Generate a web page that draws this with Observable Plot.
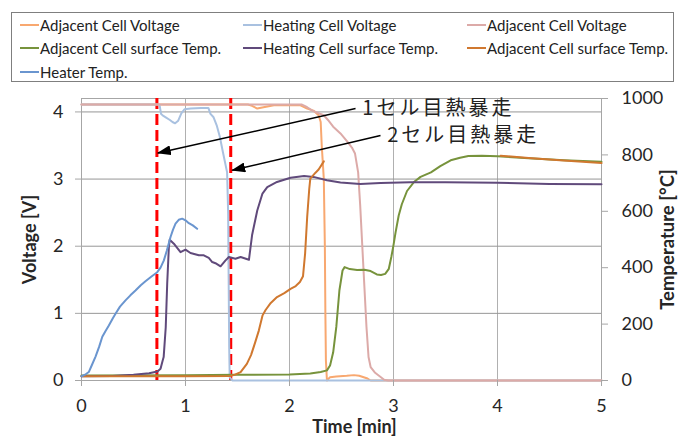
<!DOCTYPE html>
<html>
<head>
<meta charset="utf-8">
<script src="https://cdn.jsdelivr.net/npm/d3@7"></script>
<script src="https://cdn.jsdelivr.net/npm/@observablehq/plot@0.6"></script>
<style>
  html, body { margin: 0; padding: 0; background: #fff; }
  #wrap { position: relative; width: 679px; height: 439px; overflow: hidden; font-family: Lato, "Open Sans", sans-serif; }
  #legend { position: relative; width: 679px; height: 88px; }
  #legend .box { position: absolute; left: 11px; top: 12px; width: 663px; height: 70px; border: 1px solid #7f7f7f; box-sizing: border-box; }
  #legend .item { position: absolute; height: 20px; display: flex; align-items: center; font-size: 15px; color: #222; white-space: nowrap; }
  #legend .sw { width: 19px; height: 2px; margin-right: 1px; }
</style>
</head>
<body>
<div id="wrap">
  <div id="legend"><div class="box"></div></div>
  <div id="chart"></div>
</div>
<script>
// ---- data (time in min; voltage in V; temperature in °C) ----
const adjVoltageA = [[0,4.11],[1.6,4.11],[1.64,4.09],[1.69,4.05],[1.75,4.07],[1.85,4.10],[2.1,4.10],[2.17,4.05],[2.23,4.02],[2.28,3.95],[2.30,3.85],[2.31,3.5],[2.33,3.0],[2.34,2.0],[2.345,1.0],[2.35,0.3],[2.36,0],[2.39,0.05],[2.45,0.06],[2.55,0.07],[2.62,0.08],[2.67,0.07],[2.75,0.03],[2.78,0],[5,0]];
const heatVoltage = [[0,4.11],[0.75,4.11],[0.765,3.97],[0.78,3.95],[0.81,3.92],[0.85,3.88],[0.875,3.85],[0.9,3.83],[0.93,3.87],[0.96,3.98],[0.99,4.04],[1.05,4.05],[1.15,4.06],[1.22,4.06],[1.24,3.97],[1.27,3.92],[1.30,3.80],[1.33,3.63],[1.36,3.40],[1.38,3.25],[1.40,3.1],[1.41,2.5],[1.415,1.5],[1.42,0.5],[1.425,0.05],[1.45,0],[5,0]];
const adjVoltageB = [[0,4.11],[2.12,4.11],[2.17,4.07],[2.22,4.02],[2.28,3.98],[2.33,3.95],[2.37,3.88],[2.42,3.78],[2.49,3.68],[2.56,3.55],[2.60,3.47],[2.63,3.38],[2.66,3.1],[2.68,2.6],[2.70,2.0],[2.72,1.4],[2.74,0.8],[2.76,0.35],[2.78,0.2],[2.82,0.12],[2.87,0.06],[2.91,0.01],[2.95,0],[5,0]];
const adjSurfaceA = [[0,18],[1.0,19],[1.5,20],[2.0,21],[2.2,25],[2.3,30],[2.36,36],[2.39,53],[2.42,100],[2.45,190],[2.48,320],[2.51,390],[2.53,402],[2.58,395],[2.65,392],[2.72,393],[2.78,388],[2.84,376],[2.88,374],[2.92,378],[2.955,396],[2.98,440],[3.0,480],[3.02,525],[3.05,585],[3.08,625],[3.13,672],[3.2,705],[3.26,722],[3.36,738],[3.45,760],[3.55,781],[3.64,790],[3.72,796],[3.85,797],[4.0,795],[4.3,788],[4.64,781],[5,776]];
const heatSurface = [[0,15],[0.3,16],[0.5,20],[0.65,26],[0.73,32],[0.76,42],[0.78,70],[0.79,83],[0.81,189],[0.824,343],[0.84,473],[0.848,499],[0.888,485],[0.952,455],[1.0,464],[1.048,452],[1.128,444],[1.176,444],[1.224,435],[1.257,420],[1.288,416],[1.337,405],[1.385,426],[1.417,438],[1.48,432],[1.53,438],[1.61,428],[1.64,515],[1.657,545],[1.69,603],[1.74,663],[1.786,686],[1.88,704],[2.01,719],[2.14,725],[2.23,722],[2.36,710],[2.49,702],[2.68,697],[2.875,700],[3.16,703],[3.5,703],[4.0,701],[4.5,697],[5,696]];
const adjSurfaceB = [[0,15],[1.0,15],[1.43,16],[1.47,20],[1.53,30],[1.59,59],[1.63,90],[1.67,135],[1.705,177],[1.74,230],[1.77,250],[1.82,275],[1.88,296],[1.95,310],[2.01,325],[2.06,335],[2.1,349],[2.13,370],[2.15,450],[2.17,580],[2.19,680],[2.2,716],[2.25,737],[2.28,748],[2.33,777],[3.5,null],[4.03,797],[4.3,789],[4.6,781],[5,771]];
const heaterTemp = [[0,15],[0.04,22],[0.07,30],[0.1,55],[0.135,85],[0.17,120],[0.2,155],[0.23,175],[0.263,195],[0.3,220],[0.327,237],[0.37,262],[0.423,284],[0.47,302],[0.519,319],[0.57,338],[0.615,352],[0.67,368],[0.728,384],[0.76,400],[0.792,426],[0.82,460],[0.856,509],[0.88,535],[0.904,556],[0.935,570],[0.968,574],[1.0,568],[1.032,558],[1.07,550],[1.112,538]];

const legendNames = ["Adjacent Cell Voltage","Heating Cell Voltage","Adjacent Cell Voltage","Adjacent Cell surface Temp.","Heating Cell surface Temp.","Adjacent Cell surface Temp.","Heater Temp."];
const legendColors = ["#f8a870","#a9c1e0","#dcaaa8","#77933c","#604a7b","#d0782f","#6a95cf"];

const xTicks = [0,1,2,3,4,5];
const vTicks = [0,1,2,3,4];
const tempTicks = [0,200,400,600,800,1000];
const vMax = 4.2, tMax = 1000;
const runawayTimes = [0.725, 1.435];
const annText = ["1セル目熱暴走","2セル目熱暴走"];
const annTextX = [2.70, 2.94];
const annTextY = [4.05, 3.65];
const arrowX1 = [2.635, 2.875];
const arrowY1 = [4.05, 3.65];
const arrowX2 = [0.734, 1.449];
const arrowY2 = [3.387, 3.13];

// ---- legend ----
const legend = document.getElementById("legend");
const colX = [20, 243, 467], rowY = [15, 38, 62];
legendNames.forEach((n, i) => {
  const it = document.createElement("div");
  it.className = "item";
  it.style.left = colX[i % 3] + "px";
  it.style.top = rowY[Math.floor(i / 3)] + "px";
  it.innerHTML = `<span class="sw" style="background:${legendColors[i]}"></span><span>${n}</span>`;
  legend.appendChild(it);
});

// ---- chart ----
const k = vMax / tMax;
const tv = d => d[1] == null ? NaN : d[1] * k;
const ann = annText.map((t, i) => ({t, x: annTextX[i], y: annTextY[i], x1: arrowX1[i], y1: arrowY1[i], x2: arrowX2[i], y2: arrowY2[i]}));

const chart = Plot.plot({
  width: 679, height: 351,
  marginTop: 10, marginBottom: 59, marginLeft: 81, marginRight: 78,
  style: {fontFamily: "Lato, 'Open Sans', sans-serif", fontSize: "18px", color: "#262626", background: "white", overflow: "visible"},
  x: {domain: [0, 5]},
  y: {domain: [0, vMax]},
  marks: [
    Plot.ruleX(xTicks.slice(1, -1), {stroke: "#b0b0b0", strokeWidth: 1}),
    Plot.ruleY(vTicks.slice(1), {stroke: "#969696", strokeWidth: 1}),
    Plot.frame({stroke: "#a6a6a6"}),
    Plot.ruleX(runawayTimes, {stroke: "#ff0000", strokeWidth: 3, strokeDasharray: "11,5"}),
    Plot.line(adjVoltageA, {x: d => d[0], y: d => d[1], stroke: legendColors[0], strokeWidth: 2}),
    Plot.line(heatVoltage, {x: d => d[0], y: d => d[1], stroke: legendColors[1], strokeWidth: 2}),
    Plot.line(adjVoltageB, {x: d => d[0], y: d => d[1], stroke: legendColors[2], strokeWidth: 2}),
    Plot.line(adjSurfaceA, {x: d => d[0], y: tv, stroke: legendColors[3], strokeWidth: 2}),
    Plot.line(heatSurface, {x: d => d[0], y: tv, stroke: legendColors[4], strokeWidth: 2}),
    Plot.line(adjSurfaceB, {x: d => d[0], y: tv, stroke: legendColors[5], strokeWidth: 2}),
    Plot.line(heaterTemp, {x: d => d[0], y: tv, stroke: legendColors[6], strokeWidth: 2}),
    Plot.link(ann, {x1: "x1", y1: "y1", x2: "x2", y2: "y2", stroke: "#000", strokeWidth: 1.5}),
    Plot.text(ann, {x: "x", y: "y", text: "t", textAnchor: "start", lineAnchor: "middle", fontSize: 20, fill: "#222", fontFamily: "'Noto Sans CJK JP', sans-serif"}),
    Plot.axisX(xTicks, {anchor: "bottom", tickSize: 6, tickPadding: 13, stroke: "#a6a6a6", label: null, tickFormat: d => String(d)}),
    Plot.axisY(vTicks, {anchor: "left", tickSize: 6, tickPadding: 12, stroke: "#a6a6a6", label: null, tickFormat: d => String(d)}),
    Plot.axisY(tempTicks.map(t => t * k), {anchor: "right", tickSize: 6, tickPadding: 14, stroke: "#a6a6a6", label: null, tickFormat: d => String(Math.round(d / k))}),
    Plot.text(["Voltage [V]"], {frameAnchor: "left", textAnchor: "middle", lineAnchor: "middle", dx: -51, rotate: -90, fontWeight: "bold", fontSize: 18, fill: "#262626"}),
    Plot.text(["Temperature [°C]"], {frameAnchor: "right", textAnchor: "middle", lineAnchor: "middle", dx: 67, rotate: -90, fontWeight: "bold", fontSize: 18.5, fill: "#262626"}),
    Plot.text(["Time [min]"], {frameAnchor: "bottom", textAnchor: "middle", lineAnchor: "middle", dx: 13, dy: 47, fontWeight: "bold", fontSize: 18, fill: "#262626"})
  ]
});

// letter spacing for annotation texts
chart.querySelectorAll("text").forEach(t => { if (/セル/.test(t.textContent)) t.style.letterSpacing = "3px"; });

// filled arrowheads for the annotation links
const ns = "http://www.w3.org/2000/svg";
const defs = document.createElementNS(ns, "defs");
const marker = document.createElementNS(ns, "marker");
marker.setAttribute("id", "ahead");
marker.setAttribute("viewBox", "0 0 14 10");
marker.setAttribute("refX", "13"); marker.setAttribute("refY", "5");
marker.setAttribute("markerWidth", "14"); marker.setAttribute("markerHeight", "10");
marker.setAttribute("markerUnits", "userSpaceOnUse");
marker.setAttribute("orient", "auto");
const mp = document.createElementNS(ns, "path");
mp.setAttribute("d", "M0,0L14,5L0,10Z");
mp.setAttribute("fill", "#000");
marker.appendChild(mp); defs.appendChild(marker);
chart.insertBefore(defs, chart.firstChild);
chart.querySelectorAll('g[aria-label="link"] path, g[aria-label="link"] line').forEach(p => p.setAttribute("marker-end", "url(#ahead)"));

document.getElementById("chart").appendChild(chart);
</script>
</body>
</html>
